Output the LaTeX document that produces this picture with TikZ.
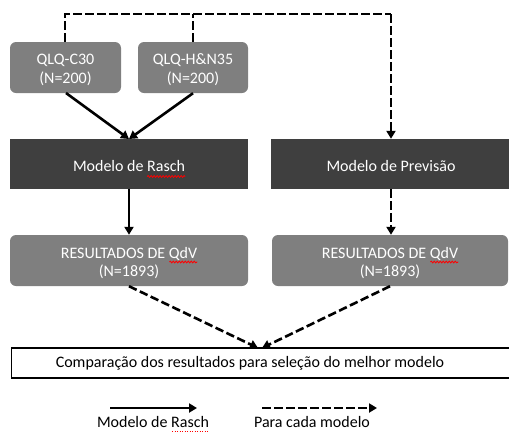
\documentclass[tikz,border=0pt]{standalone}
\usepackage{fontspec}
\setmainfont{Carlito}
\usetikzlibrary{arrows.meta,calc,decorations.pathmorphing}
\definecolor{boxgray}{HTML}{7F7F7F}
\definecolor{boxdark}{HTML}{3F3F3F}
\tikzset{
  gbox/.style={rectangle, rounded corners=6pt, fill=boxgray, inner sep=0pt},
  dbox/.style={rectangle, fill=boxdark, inner sep=0pt},
  wbox/.style={rectangle, draw=black, line width=1.2pt, fill=white, inner sep=0pt},
  solidarrow/.style={line width=2.6pt, -{Triangle[length=8pt,width=9pt]}},
  dasharrow/.style={line width=2.6pt, dash pattern=on 8.5pt off 3.5pt, -{Triangle[length=8pt,width=9pt]}},
  dashline/.style={line width=2.6pt, dash pattern=on 8.5pt off 3.5pt},
  txt/.style={font=\fontsize{16pt}{19.5pt}\selectfont, anchor=base, inner sep=0pt},
  wtxt/.style={txt, text=white},
  squig/.style={draw=red, line width=0.8pt, decorate, decoration={snake, amplitude=0.9pt, segment length=3pt}}
}
\begin{document}
\begin{tikzpicture}[x=1pt,y=-1pt]
\useasboundingbox (0,0) rectangle (509,432);
% boxes
\node[gbox, minimum width=111pt, minimum height=51pt] (c30) at (65.5,67.5) {};
\node[gbox, minimum width=110pt, minimum height=51pt] (hn) at (193,67.5) {};
\node[dbox, minimum width=238pt, minimum height=50pt] (rasch) at (129,164) {};
\node[dbox, minimum width=240pt, minimum height=50pt] (prev) at (391,164) {};
\node[gbox, minimum width=238pt, minimum height=51pt] (res1) at (129,260.5) {};
\node[gbox, minimum width=236pt, minimum height=51pt] (res2) at (390,260.5) {};
\node[wbox, minimum width=506pt, minimum height=30pt, anchor=west] (comp) at (11,363) {};
% texts
\node[wtxt] (c30a) at (65.5,64.5) {QLQ-C30};
\node[wtxt] (c30b) at (65.5,83.5) {(N=200)};
\node[wtxt] (hna) at (193,64.5) {QLQ-H\&N35};
\node[wtxt] (hnb) at (193,83.5) {(N=200)};
\node[wtxt] (raschtxt) at (129,171.5) {Modelo de Rasch};
\node[wtxt] (prevtxt) at (391,171.5) {Modelo de Previsão};
\node[wtxt] (res1a) at (129,258) {RESULTADOS DE QdV};
\node[wtxt] (res1b) at (129,276.5) {(N=1893)};
\node[wtxt] (res2a) at (390,258) {RESULTADOS DE QdV};
\node[wtxt] (res2b) at (390,276.5) {(N=1893)};
\node[txt] (comptxt) at (250,367.5) {Comparação dos resultados para seleção do melhor modelo};
% spell-check marks
\draw[squig] ($(raschtxt.base east)+(-38,5)$) -- ($(raschtxt.base east)+(0,5)$);
\draw[squig] ($(res1a.base east)+(-28,4)$) -- ($(res1a.base east)+(0,4)$);
\draw[squig] ($(res2a.base east)+(-28,4)$) -- ($(res2a.base east)+(0,4)$);
% top dashed route
\coordinate (t1) at (65,14);
\coordinate (t2) at (193,14);
\coordinate (t3) at (391,14);
\draw[dashline] (c30.north -| t1) -- (t1) -- (t3);
\draw[dashline] (hn.north) -- (t2);
\draw[dasharrow] (t3) -- (prev.north);
% solid arrows into Rasch
\coordinate (rin) at (129,139);
\draw[solidarrow] (66,93) -- (rin);
\draw[solidarrow] (hn.south) -- (rin);
\draw[solidarrow] (rasch.south) -- (res1.north);
\draw[dasharrow] (prev.south) -- (prev.south |- res2.north);
% into comparison
\coordinate (cin1) at (258,348);
\coordinate (cin2) at (262,348);
\draw[dasharrow] (res1.south) -- (cin1);
\draw[dasharrow] (res2.south) -- (cin2);
% legend
\coordinate (l1a) at (110,408);
\coordinate (l1b) at (197,408);
\coordinate (l2a) at (262,408);
\coordinate (l2b) at (377,408);
\draw[solidarrow] (l1a) -- (l1b);
\draw[dasharrow] (l2a) -- (l2b);
\node[txt] (lab1) at (153,427.5) {Modelo de Rasch};
\node[txt] (lab2) at (312,427.5) {Para cada modelo};
\draw[red, line width=0.8pt, dash pattern=on 1pt off 1.5pt] ($(lab1.base east)+(-37,3.5)$) -- ($(lab1.base east)+(0,3.5)$);
\end{tikzpicture}
\end{document}
